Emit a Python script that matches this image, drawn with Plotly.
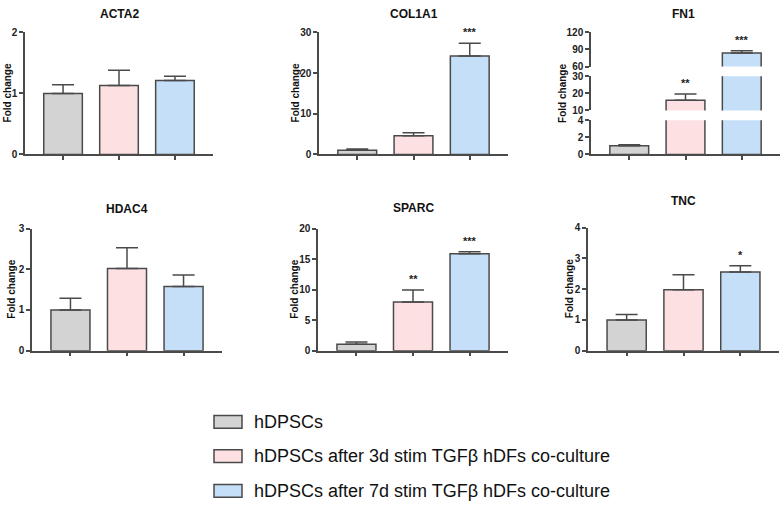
import plotly.graph_objects as go

W, H = 782, 509

# ──────────────────────────────────────────────────────────────────────
# Data
# ──────────────────────────────────────────────────────────────────────

GROUPS = [
    "hDPSCs",
    "hDPSCs after 3d stim TGFβ hDFs co-culture",
    "hDPSCs after 7d stim TGFβ hDFs co-culture",
]

acta2_mean = [1.0, 1.13, 1.21]
acta2_sem = [0.14, 0.25, 0.07]
acta2_sig = ["", "", ""]

col1a1_mean = [1.0, 4.6, 24.2]
col1a1_sem = [0.3, 0.7, 3.1]
col1a1_sig = ["", "", "***"]

fn1_mean = [1.0, 16.0, 83.6]
fn1_sem = [0.12, 3.7, 3.9]
fn1_sig = ["", "**", "***"]

hdac4_mean = [1.0, 2.02, 1.58]
hdac4_sem = [0.29, 0.51, 0.28]
hdac4_sig = ["", "", ""]

sparc_mean = [1.06, 7.96, 15.9]
sparc_sem = [0.37, 2.0, 0.3]
sparc_sig = ["", "**", "***"]

tnc_mean = [1.0, 1.98, 2.56]
tnc_sem = [0.18, 0.49, 0.2]
tnc_sig = ["", "", "*"]

acta2_ticks = [0, 1, 2]
col1a1_ticks = [0, 10, 20, 30]
hdac4_ticks = [0, 1, 2, 3]
sparc_ticks = [0, 5, 10, 15, 20]
tnc_ticks = [0, 1, 2, 3, 4]
fn1_ticks_low = [0, 2, 4]
fn1_ticks_mid = [10, 20, 30]
fn1_ticks_high = [60, 90, 120]

# ──────────────────────────────────────────────────────────────────────
# Style
# ──────────────────────────────────────────────────────────────────────

FILLS = ["#d3d3d3", "#fde0e2", "#c4dff7"]
EDGE = "#4a4a4a"
FONT = "Liberation Sans, Arial, sans-serif"
X_RANGE = [-0.68, 2.68]


def px_x(a, b):
    return [a / W, b / W]


def px_y(bottom, top):
    return [1 - bottom / H, 1 - top / H]


fig = go.Figure()
layout = {}
annotations = []
axis_style = dict(
    showline=True, linecolor=EDGE, linewidth=1.5,
    ticks="outside", ticklen=4, tickwidth=1.5, tickcolor=EDGE,
    showgrid=False, zeroline=False,
    tickfont=dict(family=FONT, size=10, color="#222", weight=700),
)


def add_bars(xn, yn, mean, sem):
    for i in range(3):
        fig.add_trace(go.Bar(
            x=[i], y=[mean[i]], width=0.69,
            marker=dict(color=FILLS[i], line=dict(color=EDGE, width=1.5)),
            error_y=dict(type="data", symmetric=False, array=[sem[i]],
                         arrayminus=[0], color=EDGE, thickness=1.5, width=11),
            xaxis=f"x{xn}", yaxis=f"y{yn}", showlegend=False,
        ))


def star(x, y, xref, yref, text):
    return dict(
        x=x, y=y, xref=xref, yref=yref, text=text, showarrow=False,
        xanchor="center", yanchor="bottom", yshift=3,
        font=dict(family=FONT, size=11, color="#222", weight=700),
    )


def add_title(text, cx, cy):
    annotations.append(dict(
        x=cx / W, y=1 - cy / H, xref="paper", yref="paper", text=text,
        xanchor="center", yanchor="middle", showarrow=False,
        font=dict(family=FONT, size=12, color="#111", weight=700),
    ))


def add_ylabel(cx, cy):
    annotations.append(dict(
        x=cx / W, y=1 - cy / H, xref="paper", yref="paper", text="Fold change",
        textangle=-90, xanchor="center", yanchor="middle", showarrow=False,
        font=dict(family=FONT, size=10, color="#111", weight=700),
    ))


# simple panels: (n, title, mean, sem, sig, ticks, x px, y px, title y, label x)
panels = [
    (1, "ACTA2", acta2_mean, acta2_sem, acta2_sig, acta2_ticks, (25, 213), (152, 27), 8, 7),
    (2, "COL1A1", col1a1_mean, col1a1_sem, col1a1_sig, col1a1_ticks, (319, 508), (152, 27), 8, 295),
    (4, "HDAC4", hdac4_mean, hdac4_sem, hdac4_sig, hdac4_ticks, (32, 222), (353, 228), 208, 12),
    (5, "SPARC", sparc_mean, sparc_sem, sparc_sig, sparc_ticks, (318, 508), (353, 228), 207, 295),
    (6, "TNC", tnc_mean, tnc_sem, tnc_sig, tnc_ticks, (588, 779), (353, 227), 200, 569),
]

for n, title, mean, sem, sig, ticks, (xa, xb), (yb, yt), ty, lx in panels:
    add_bars(n, n, mean, sem)
    for i, s in enumerate(sig):
        if s:
            annotations.append(star(i, mean[i] + sem[i], f"x{n}", f"y{n}", s))
    layout[f"xaxis{n}"] = dict(
        axis_style, domain=px_x(xa, xb), range=X_RANGE, anchor=f"y{n}",
        tickvals=[0, 1, 2], ticktext=["", "", ""],
    )
    layout[f"yaxis{n}"] = dict(
        axis_style, domain=px_y(yb, yt), range=[0, ticks[-1]], anchor=f"x{n}",
        tickvals=ticks,
    )
    add_title(title, (xa + xb) / 2, ty)
    add_ylabel(lx, (yb + yt) / 2)

# FN1: broken y axis built from three stacked segments sharing x3
fn1_segments = [
    (3, fn1_ticks_low, (152, 117)),
    (7, fn1_ticks_mid, (107, 72)),
    (8, fn1_ticks_high, (62, 27)),
]
for yn, ticks, (yb, yt) in fn1_segments:
    add_bars(3, yn, fn1_mean, fn1_sem)
    layout[f"yaxis{yn}"] = dict(
        axis_style, domain=px_y(yb, yt), range=[ticks[0], ticks[-1]],
        anchor="x3", tickvals=ticks,
    )
layout["xaxis3"] = dict(
    axis_style, domain=px_x(591, 780), range=X_RANGE, anchor="y3",
    tickvals=[0, 1, 2], ticktext=["", "", ""],
)
for i, s in enumerate(fn1_sig):
    if s:
        top = fn1_mean[i] + fn1_sem[i]
        yn = 8 if top > 30 else 7 if top > 4 else 3
        annotations.append(star(i, top, "x3", f"y{yn}", s))
add_title("FN1", 683, 8)
add_ylabel(563, 90)

# Legend: swatches + labels
shapes = []
for i, name in enumerate(GROUPS):
    cy = [426, 461, 496.5][i]
    shapes.append(dict(
        type="rect", xref="paper", yref="paper",
        x0=214 / W, x1=242 / W, y0=1 - (cy + 6.5) / H, y1=1 - (cy - 6.5) / H,
        fillcolor=FILLS[i], line=dict(color=EDGE, width=1.5),
    ))
    annotations.append(dict(
        x=252 / W, y=1 - cy / H, xref="paper", yref="paper", text=name,
        xanchor="left", yanchor="middle", showarrow=False,
        font=dict(family=FONT, size=18, color="#111"),
    ))

fig.update_layout(
    width=W, height=H,
    margin=dict(l=0, r=0, t=0, b=0),
    paper_bgcolor="white", plot_bgcolor="white",
    barmode="overlay",
    annotations=annotations, shapes=shapes,
    **layout,
)

fig.write_html(
    "out.html",
    config={"displayModeBar": False},
    post_script="document.body.style.margin='0';",
)
